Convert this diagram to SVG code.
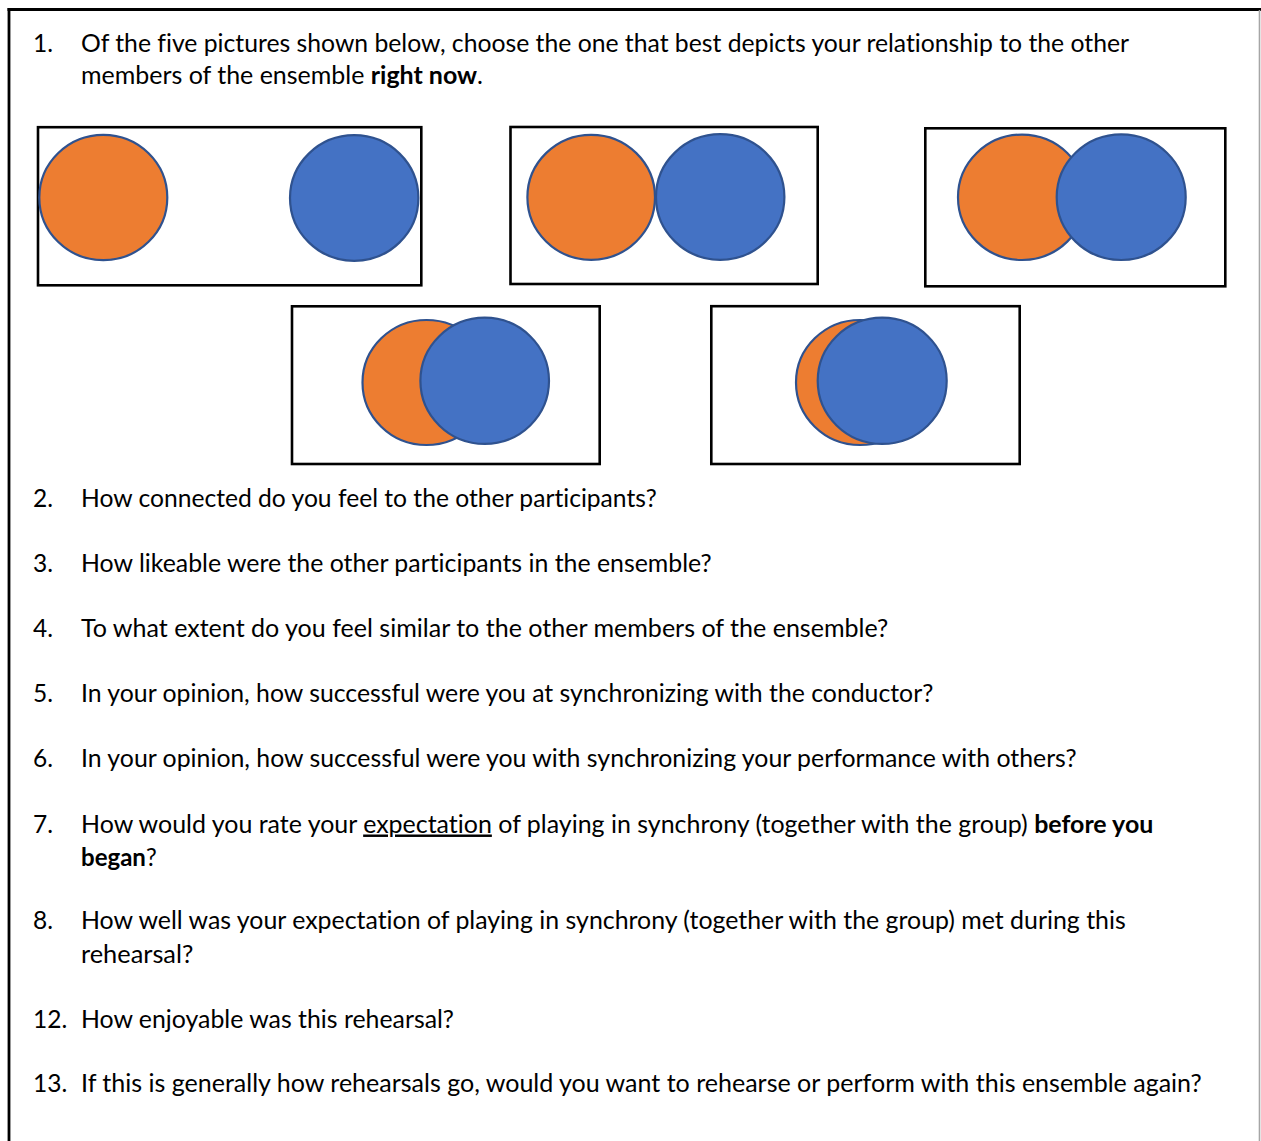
<svg xmlns="http://www.w3.org/2000/svg" width="1261" height="1141" viewBox="0 0 1261 1141">
<style>
.t{font-family:Lato,"Open Sans","Liberation Sans",sans-serif;font-size:24.5px;fill:#000;font-variant-ligatures:none}
.b{font-weight:bold}
.u{text-decoration:underline}
.box{fill:#fff;stroke:#000;stroke-width:2.6}
.or{fill:#ED7D31;stroke:#2F528F;stroke-width:2.2}
.bl{fill:#4472C4;stroke:#2F528F;stroke-width:2.2}
</style>
<rect x="0" y="0" width="1261" height="1141" fill="#fff"/>
<g id="frame">
<line x1="7.5" y1="9.5" x2="1261" y2="9.5" stroke="#000" stroke-width="3"/>
<line x1="9" y1="8" x2="9" y2="1141" stroke="#000" stroke-width="2.8"/>
<line x1="1259.5" y1="10" x2="1259.5" y2="1141" stroke="#a6a6a6" stroke-width="1.6"/>
</g>
<g id="q1">
<text class="t" x="33" y="52">1.</text>
<text class="t" x="81" y="52" textLength="1048" lengthAdjust="spacingAndGlyphs">Of the five pictures shown below, choose the one that best depicts your relationship to the other</text>
<text class="t" x="81" y="84" textLength="402" lengthAdjust="spacingAndGlyphs">members of the ensemble <tspan class="b">right now</tspan>.</text>
</g>
<g id="pic1">
<rect class="box" x="38" y="127.2" width="383.3" height="158.1"/>
<ellipse class="or" cx="103.3" cy="197.5" rx="64" ry="62.7"/>
<ellipse class="bl" cx="354.2" cy="198" rx="64.2" ry="62.8"/>
</g>
<g id="pic2">
<rect class="box" x="510.5" y="127" width="307.2" height="157"/>
<ellipse class="or" cx="591.2" cy="197.3" rx="63.8" ry="62.5"/>
<ellipse class="bl" cx="720.2" cy="197" rx="64.2" ry="62.8"/>
</g>
<g id="pic3">
<rect class="box" x="925.3" y="128.3" width="300" height="158"/>
<ellipse class="or" cx="1022" cy="197.3" rx="64" ry="62.7"/>
<ellipse class="bl" cx="1121.2" cy="197.2" rx="64.5" ry="62.8"/>
</g>
<g id="pic4">
<rect class="box" x="292" y="306.3" width="307.7" height="157.7"/>
<ellipse class="or" cx="426.5" cy="382.5" rx="64" ry="62.5"/>
<ellipse class="bl" cx="484.7" cy="380.8" rx="64.3" ry="63.1"/>
</g>
<g id="pic5">
<rect class="box" x="711.3" y="306.2" width="308.4" height="157.8"/>
<ellipse class="or" cx="860" cy="382.5" rx="64" ry="62.5"/>
<ellipse class="bl" cx="882.2" cy="380.8" rx="64.5" ry="63.1"/>
</g>
<g id="q2">
<text class="t" x="33" y="507">2.</text>
<text class="t" x="81" y="507" textLength="575.7" lengthAdjust="spacingAndGlyphs">How connected do you feel to the other participants?</text>
</g>
<g id="q3">
<text class="t" x="33" y="572">3.</text>
<text class="t" x="81" y="572" textLength="630.7" lengthAdjust="spacingAndGlyphs">How likeable were the other participants in the ensemble?</text>
</g>
<g id="q4">
<text class="t" x="33" y="637">4.</text>
<text class="t" x="81" y="637" textLength="807.3" lengthAdjust="spacingAndGlyphs">To what extent do you feel similar to the other members of the ensemble?</text>
</g>
<g id="q5">
<text class="t" x="33" y="702">5.</text>
<text class="t" x="81" y="702" textLength="852.3" lengthAdjust="spacingAndGlyphs">In your opinion, how successful were you at synchronizing with the conductor?</text>
</g>
<g id="q6">
<text class="t" x="33" y="767">6.</text>
<text class="t" x="81" y="767" textLength="995.7" lengthAdjust="spacingAndGlyphs">In your opinion, how successful were you with synchronizing your performance with others?</text>
</g>
<g id="q7">
<text class="t" x="33" y="832.5">7.</text>
<text class="t" x="81" y="832.5" textLength="1072.3" lengthAdjust="spacingAndGlyphs">How would you rate your <tspan class="u">expectation</tspan> of playing in synchrony (together with the group) <tspan class="b">before you</tspan></text>
<text class="t" x="81" y="866" textLength="75.7" lengthAdjust="spacingAndGlyphs"><tspan class="b">began</tspan>?</text>
</g>
<g id="q8">
<text class="t" x="33" y="929">8.</text>
<text class="t" x="81" y="929" textLength="1044.7" lengthAdjust="spacingAndGlyphs">How well was your expectation of playing in synchrony (together with the group) met during this</text>
<text class="t" x="81" y="963" textLength="112.3" lengthAdjust="spacingAndGlyphs">rehearsal?</text>
</g>
<g id="q12">
<text class="t" x="33" y="1028">12.</text>
<text class="t" x="81" y="1028" textLength="373" lengthAdjust="spacingAndGlyphs">How enjoyable was this rehearsal?</text>
</g>
<g id="q13">
<text class="t" x="33" y="1092">13.</text>
<text class="t" x="81" y="1092" textLength="1120.7" lengthAdjust="spacingAndGlyphs">If this is generally how rehearsals go, would you want to rehearse or perform with this ensemble again?</text>
</g>
</svg>
